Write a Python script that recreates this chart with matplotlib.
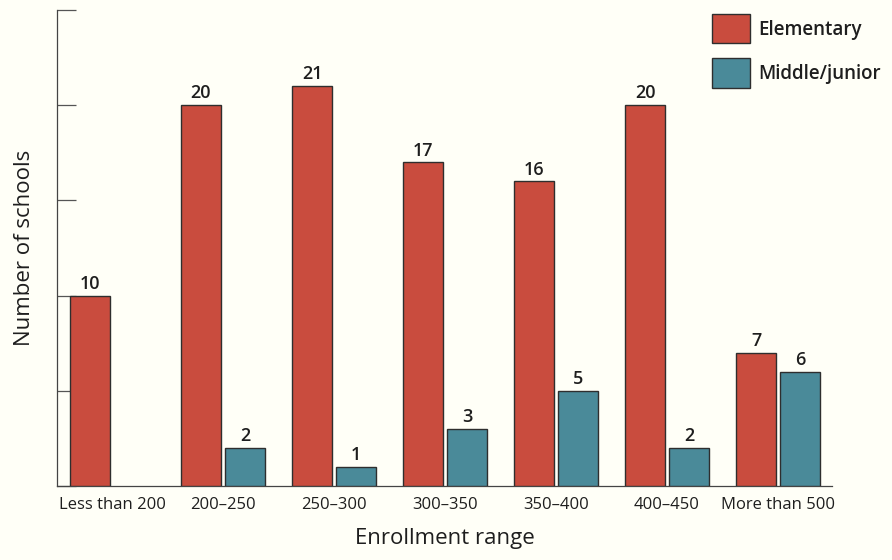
import matplotlib
matplotlib.use("Agg")
import matplotlib.pyplot as plt
import numpy as np
from matplotlib.patches import Patch

plt.rcParams['font.family'] = ['Open Sans', 'DejaVu Sans']

categories = ["Less than 200", "200\u2013250", "250\u2013300", "300\u2013350",
              "350\u2013400", "400\u2013450", "More than 500"]
elementary = [10, 20, 21, 17, 16, 20, 7]
middle_junior = [0, 2, 1, 3, 5, 2, 6]
series_names = ["Elementary", "Middle/junior"]

RED = "#c94c3e"
TEAL = "#4a8a99"
EDGE = "#2e2e2e"
TEXT = "#1e1e1e"
BG = "#fffff7"

fig = plt.figure(figsize=(8.92, 5.6), dpi=100, facecolor=BG)
W, H = 892, 560
ax = fig.add_axes([57 / W, 1 - 486 / H, (832 - 57) / W, (486 - 10) / H])
ax.set_facecolor(BG)

x = np.arange(len(categories))
bw = 0.36
off = 0.198

def draw(vals, shift, color):
    for xi, v in zip(x, vals):
        if v <= 0:
            continue
        ax.bar(xi + shift, v, width=bw, color=color, edgecolor=EDGE,
               linewidth=1.0, zorder=3)
        ax.annotate(str(v), (xi + shift, v), xytext=(0, 2),
                    textcoords="offset points", ha="center", va="bottom",
                    fontsize=13, color=TEXT, fontweight="semibold")

draw(elementary, -off, RED)
draw(middle_junior, off, TEAL)

ax.set_xlim(-0.495, 6.486)
ax.set_ylim(0, 25)
ax.set_yticks(np.arange(0, 26, 5))
ax.set_yticklabels([])
ax.tick_params(axis='y', direction='in', length=13.5, width=0.9, color="#555555")
ax.set_xticks(x)
ax.set_xticklabels(categories, fontsize=12, color=TEXT, fontweight="medium")
ax.tick_params(axis='x', length=0, pad=8)

for s in ("top", "right"):
    ax.spines[s].set_visible(False)
for s in ("left", "bottom"):
    ax.spines[s].set_color("#444444")
    ax.spines[s].set_linewidth(0.9)

ax.set_xlabel("Enrollment range", fontsize=16, color=TEXT, labelpad=11,
              fontweight="medium")
ax.set_ylabel("Number of schools", fontsize=16, color=TEXT, labelpad=12,
              fontweight="medium")

handles = [Patch(facecolor=RED, edgecolor=EDGE, linewidth=1.0),
           Patch(facecolor=TEAL, edgecolor=EDGE, linewidth=1.0)]
leg = ax.legend(handles, series_names, loc="upper left",
                bbox_to_anchor=(712 / W, 1 - 14 / H), bbox_transform=fig.transFigure,
                frameon=False, fontsize=13.5, handlelength=2.03, handleheight=2.04,
                labelspacing=0.8, handletextpad=0.43, borderpad=0, borderaxespad=0)
for t in leg.get_texts():
    t.set_color(TEXT)
    t.set_fontweight("semibold")

fig.savefig("out.png", dpi=100, facecolor=BG)
